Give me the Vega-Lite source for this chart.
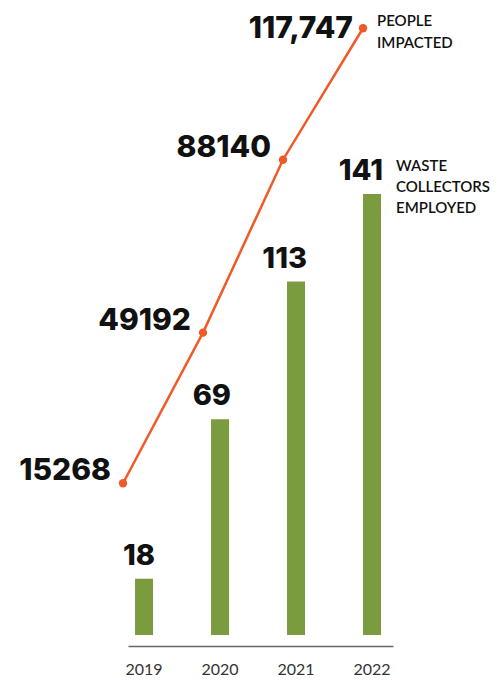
{
  "$schema": "https://vega.github.io/schema/vega-lite/v6.json",
  "width": 265,
  "height": 635,
  "autosize": {"type": "none"},
  "padding": {"left": 128, "top": 0, "right": 104, "bottom": 46},
  "background": "white",
  "config": {"view": {"stroke": null}},
  "data": {
    "values": [
      {"year": 2019, "yr": "2019", "collectors": 18, "people": 15268, "peopleLabel": "15268", "peopleNote": "", "collectorsNote": ""},
      {"year": 2020, "yr": "2020", "collectors": 69, "people": 49192, "peopleLabel": "49192", "peopleNote": "", "collectorsNote": ""},
      {"year": 2021, "yr": "2021", "collectors": 113, "people": 88140, "peopleLabel": "88140", "peopleNote": "", "collectorsNote": ""},
      {"year": 2022, "yr": "2022", "collectors": 141, "people": 117747, "peopleLabel": "117,747", "peopleNote": "PEOPLE\nIMPACTED", "collectorsNote": "WASTE\nCOLLECTORS\nEMPLOYED"}
    ]
  },
  "resolve": {"scale": {"x": "independent", "y": "independent"}, "axis": {"x": "independent", "y": "independent"}},
  "layer": [
    {
      "encoding": {
        "x": {
          "field": "yr", "type": "ordinal",
          "scale": {"paddingInner": 0.763, "paddingOuter": 0.125, "align": 0.37},
          "axis": {
            "title": null, "labelAngle": 0, "ticks": false, "offset": 11,
            "domainColor": "#666666", "domainWidth": 1.5,
            "labelFont": "Lato", "labelFontSize": 16, "labelColor": "#333333",
            "labelPadding": 15, "grid": false
          }
        },
        "y": {"field": "collectors", "type": "quantitative", "scale": {"domain": [0, 203], "nice": false}, "axis": null}
      },
      "layer": [
        {"mark": {"type": "bar", "color": "#7A9C3E", "width": 18}},
        {"mark": {"type": "text", "align": "right", "baseline": "alphabetic", "dx": 11, "dy": -14, "font": "Inter", "fontWeight": 800, "fontSize": 29, "color": "#111111"},
         "encoding": {"text": {"field": "collectors", "type": "quantitative"}}},
        {"mark": {"type": "text", "align": "left", "baseline": "alphabetic", "dx": 24, "dy": -23, "lineBreak": "\n", "lineHeight": 21, "font": "Lato", "fontWeight": 600, "fontSize": 15, "color": "#111111"},
         "encoding": {"text": {"field": "collectorsNote", "type": "nominal"}}}
      ]
    },
    {
      "encoding": {
        "x": {"field": "year", "type": "quantitative", "scale": {"domain": [2019.0625, 2022.375], "nice": false, "zero": false}, "axis": null},
        "y": {"field": "people", "type": "quantitative", "scale": {"domain": [-18905, 124113], "nice": false, "zero": false}, "axis": null}
      },
      "layer": [
        {"mark": {"type": "line", "color": "#F05A28", "strokeWidth": 2.5}},
        {"mark": {"type": "point", "filled": true, "color": "#F05A28", "size": 70, "opacity": 1}},
        {"transform": [{"filter": "datum.year < 2022"}],
         "mark": {"type": "text", "align": "right", "baseline": "alphabetic", "dx": -12, "dy": -3, "font": "Inter", "fontWeight": 800, "fontSize": 30, "color": "#111111"},
         "encoding": {"text": {"field": "peopleLabel", "type": "nominal"}}},
        {"transform": [{"filter": "datum.year == 2022"}],
         "mark": {"type": "text", "align": "right", "baseline": "alphabetic", "dx": -10, "dy": 10, "font": "Inter", "fontWeight": 800, "fontSize": 30, "color": "#111111"},
         "encoding": {"text": {"field": "peopleLabel", "type": "nominal"}}},
        {"mark": {"type": "text", "align": "left", "baseline": "alphabetic", "dx": 14, "dy": -2, "lineBreak": "\n", "lineHeight": 22, "font": "Lato", "fontWeight": 600, "fontSize": 15, "color": "#111111"},
         "encoding": {"text": {"field": "peopleNote", "type": "nominal"}}}
      ]
    }
  ]
}
